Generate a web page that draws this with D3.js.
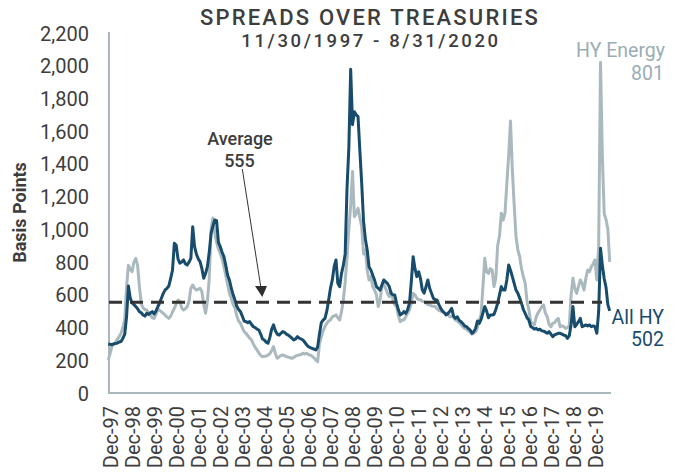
<!DOCTYPE html>
<html>
<head>
<meta charset="utf-8">
<script src="https://cdn.jsdelivr.net/npm/d3@7"></script>
<style>
  html, body { margin: 0; padding: 0; background: #fff; }
  svg { display: block; font-family: Roboto, "Noto Sans", sans-serif; }
</style>
</head>
<body>
<svg id="chart" width="681" height="473"></svg>
<script>
// ---- Data (monthly, Nov-1997 .. Aug-2020), basis points ----
const firstMonth = "1997-11";
const monthCount = 274;

const allHY = [
  // 1997 Nov-Dec
  300, 298,
  // 1998
  295, 300, 302, 305, 312, 315, 334, 360, 466, 654, 580, 550,
  // 1999
  540, 528, 515, 497, 490, 477, 470, 487, 480, 490, 497, 483,
  // 2000
  500, 527, 550, 580, 609, 630, 640, 654, 700, 750, 915, 904,
  // 2001
  820, 793, 800, 813, 790, 782, 800, 823, 1016, 894, 850, 820,
  // 2002
  803, 760, 701, 730, 772, 860, 976, 1020, 1057, 1053, 920, 894,
  // 2003
  860, 833, 780, 720, 690, 640, 600, 568, 530, 510, 497, 470,
  // 2004
  440, 436, 430, 436, 420, 405, 400, 390, 385, 360, 330, 324,
  // 2005
  310, 304, 340, 390, 416, 380, 360, 354, 365, 375, 370, 360,
  // 2006
  354, 345, 335, 324, 330, 344, 335, 330, 324, 310, 295, 283,
  // 2007
  278, 273, 268, 263, 280, 360, 430, 445, 456, 500, 568, 640,
  // 2008
  691, 772, 813, 670, 650, 731, 780, 850, 1250, 1500, 1978, 1640,
  // 2009
  1719, 1700, 1689, 1480, 1281, 1050, 940, 874, 770, 752, 720, 690,
  // 2010
  650, 640, 629, 660, 691, 680, 670, 650, 609, 600, 599, 548,
  // 2011
  507, 477, 485, 497, 487, 510, 548, 680, 833, 760, 711, 741,
  // 2012
  700, 629, 610, 650, 691, 640, 609, 579, 570, 568, 540, 517,
  // 2013
  500, 490, 477, 487, 500, 517, 470, 456, 466, 446, 436, 425,
  // 2014
  410, 405, 395, 385, 365, 375, 395, 440, 426, 450, 490, 528,
  // 2015
  500, 460, 477, 477, 480, 510, 548, 600, 650, 629, 629, 691,
  // 2016
  782, 750, 711, 670, 629, 610, 580, 548, 510, 487, 460, 446,
  // 2017
  405, 400, 390, 395, 385, 390, 380, 378, 372, 365, 375, 360,
  // 2018
  344, 355, 360, 365, 365, 360, 354, 350, 334, 350, 420, 528,
  // 2019
  405, 420, 436, 456, 405, 410, 416, 410, 416, 405, 410, 405,
  // 2020 Jan-Aug
  365, 500, 884, 780, 700, 645, 540, 502
];

const hyEnergy = [
  // 1997 Nov-Dec
  202, 240,
  // 1998
  283, 300, 310, 330, 345, 365, 400, 450, 650, 780, 760, 741,
  // 1999
  800, 823, 780, 650, 545, 520, 510, 507, 490, 475, 460, 456,
  // 2000
  480, 517, 505, 495, 487, 475, 465, 456, 470, 495, 517, 545,
  // 2001
  568, 560, 520, 507, 515, 527, 560, 640, 660, 640, 629, 635,
  // 2002
  640, 620, 540, 487, 560, 700, 1000, 1069, 976, 920, 880, 854,
  // 2003
  820, 772, 720, 660, 609, 580, 540, 520, 470, 440, 426, 400,
  // 2004
  375, 365, 350, 335, 324, 300, 280, 263, 245, 230, 222, 225,
  // 2005
  225, 232, 240, 260, 283, 240, 212, 220, 230, 232, 228, 222,
  // 2006
  220, 215, 212, 218, 225, 230, 232, 235, 243, 238, 243, 235,
  // 2007
  232, 225, 215, 202, 191, 300, 344, 380, 405, 426, 440, 446,
  // 2008
  466, 470, 477, 460, 446, 497, 568, 680, 830, 1000, 1150, 1353,
  // 2009
  1077, 1100, 1129, 1070, 1016, 850, 874, 750, 691, 711, 650, 629,
  // 2010
  600, 528, 568, 650, 670, 640, 610, 589, 619, 570, 538, 528,
  // 2011
  470, 436, 446, 446, 466, 490, 507, 550, 609, 600, 579, 570,
  // 2012
  570, 560, 558, 550, 540, 538, 532, 530, 528, 515, 505, 500,
  // 2013
  497, 490, 485, 480, 466, 470, 460, 446, 440, 430, 420, 405,
  // 2014
  395, 390, 380, 375, 360, 365, 375, 400, 446, 480, 650, 823,
  // 2015
  740, 731, 760, 752, 650, 700, 900, 960, 1098, 1057, 1100, 1281,
  // 2016
  1450, 1662, 1363, 1150, 955, 874, 833, 760, 711, 670, 560, 507,
  // 2017
  436, 426, 416, 466, 490, 507, 528, 538, 487, 466, 420, 405,
  // 2018
  426, 430, 446, 456, 405, 410, 405, 395, 400, 410, 600, 701,
  // 2019
  640, 609, 650, 691, 670, 629, 700, 752, 741, 772, 790, 813,
  // 2020 Jan-Aug
  691, 900, 2019, 1450, 1098, 1060, 1000, 801
];

const tickLabels = ["Dec-97","Dec-98","Dec-99","Dec-00","Dec-01","Dec-02","Dec-03","Dec-04",
  "Dec-05","Dec-06","Dec-07","Dec-08","Dec-09","Dec-10","Dec-11","Dec-12","Dec-13","Dec-14",
  "Dec-15","Dec-16","Dec-17","Dec-18","Dec-19"];
const yTicks = [0, 200, 400, 600, 800, 1000, 1200, 1400, 1600, 1800, 2000, 2200];
const averageValue = 555;
const lastAll = 502;
const lastEnergy = 801;
const titleText = "SPREADS OVER TREASURIES";
const subtitleText = "11/30/1997 - 8/31/2020";

// ---- Layout ----
const svg = d3.select("#chart");
const W = 681, H = 473;
const plotLeft = 108.2, plotRight = 609.7, plotTop = 33, plotBottom = 393;

const parseMonth = d3.timeParse("%Y-%m");
const startMonth = parseMonth(firstMonth);
const months = d3.range(monthCount).map(i => d3.timeMonth.offset(startMonth, i));
const x = d3.scaleLinear().domain([0, monthCount - 1]).range([plotLeft, plotRight]);
const y = d3.scaleLinear().domain([0, 2200]).range([plotBottom, plotTop]);

const darkBlue = "#184c6d";
const gray = "#aab9be";
const textCol = "#3d3d3d";
const axisCol = "#a9b8bc";

svg.append("rect").attr("width", W).attr("height", H).attr("fill", "#fff");

// Title
svg.append("text").attr("x", 370).attr("y", 24.5).attr("text-anchor", "middle")
  .attr("font-size", 22).attr("font-weight", 500).attr("letter-spacing", 2.2)
  .attr("fill", textCol).text(titleText);
svg.append("text").attr("x", 371).attr("y", 47).attr("text-anchor", "middle")
  .attr("font-size", 18.5).attr("font-weight", 500).attr("letter-spacing", 2.6)
  .attr("fill", textCol).text(subtitleText);

// Y axis
const yAxis = d3.axisLeft(y).tickValues(yTicks).tickSize(0).tickPadding(0)
  .tickFormat(d3.format(","));
const gy = svg.append("g").attr("transform", `translate(89,0)`).call(yAxis);
gy.select(".domain").remove();
gy.selectAll("text").attr("font-size", 20).attr("fill", textCol)
  .attr("font-family", "Roboto, sans-serif").attr("dy", "0.35em");

svg.append("text")
  .attr("transform", `translate(26,212.5) rotate(-90)`)
  .attr("text-anchor", "middle").attr("font-size", 18).attr("font-weight", 700)
  .attr("fill", textCol).text("Basis Points");

// Axis lines
svg.append("line").attr("x1", 109).attr("x2", 109).attr("y1", 32).attr("y2", plotBottom)
  .attr("stroke", axisCol).attr("stroke-width", 2);
svg.append("line").attr("x1", 108).attr("x2", 611).attr("y1", plotBottom).attr("y2", plotBottom)
  .attr("stroke", axisCol).attr("stroke-width", 2);

// X axis tick labels (each December)
const decIdx = months.map((d, i) => d.getMonth() === 11 ? i : -1).filter(i => i >= 0);
const xAxis = d3.axisBottom(x).tickValues(decIdx).tickSize(0)
  .tickFormat((d, i) => tickLabels[i]);
const gx = svg.append("g").attr("transform", `translate(0,${plotBottom})`).call(xAxis);
gx.select(".domain").remove();
gx.selectAll("text")
  .attr("font-size", 20).attr("fill", textCol).attr("font-family", "Roboto, sans-serif")
  .attr("text-anchor", "end").attr("transform", "rotate(-90)")
  .attr("x", -13).attr("y", 0).attr("dy", "0.36em");

// Lines
const line = d3.line().x((d, i) => x(i)).y(d => y(d)).curve(d3.curveLinear);
svg.append("path").datum(hyEnergy).attr("d", line).attr("fill", "none")
  .attr("stroke", gray).attr("stroke-width", 3).attr("stroke-linejoin", "round");
svg.append("path").datum(allHY).attr("d", line).attr("fill", "none")
  .attr("stroke", darkBlue).attr("stroke-width", 3).attr("stroke-linejoin", "round");

// Average dashed line
svg.append("line").attr("x1", 109).attr("x2", 602)
  .attr("y1", y(averageValue)).attr("y2", y(averageValue))
  .attr("stroke", "#333").attr("stroke-width", 3).attr("stroke-dasharray", "13,8");

// Average annotation
svg.append("text").attr("x", 240).attr("y", 144.5).attr("text-anchor", "middle")
  .attr("font-size", 18).attr("font-weight", 500).attr("fill", textCol).text("Average");
svg.append("text").attr("x", 239.5).attr("y", 167).attr("text-anchor", "middle")
  .attr("font-size", 18).attr("font-weight", 500).attr("fill", textCol).text(d3.format(",")(averageValue));
svg.append("line").attr("x1", 242.3).attr("y1", 169).attr("x2", 260.8).attr("y2", 287)
  .attr("stroke", "#333").attr("stroke-width", 1);
svg.append("path").attr("d", "M255,286 L267,286 L262.3,297 Z").attr("fill", "#2e2e2e");

// Series end labels
svg.append("text").attr("x", 665).attr("y", 57).attr("text-anchor", "end")
  .attr("font-size", 19.5).attr("fill", "#9aadb3").text("HY Energy");
svg.append("text").attr("x", 664).attr("y", 79.5).attr("text-anchor", "end")
  .attr("font-size", 19.5).attr("fill", "#9aadb3").text(lastEnergy);
svg.append("text").attr("x", 664).attr("y", 323.5).attr("text-anchor", "end")
  .attr("font-size", 19.5).attr("fill", darkBlue).text("All HY");
svg.append("text").attr("x", 664).attr("y", 346).attr("text-anchor", "end")
  .attr("font-size", 19.5).attr("fill", darkBlue).text(lastAll);
</script>
</body>
</html>
